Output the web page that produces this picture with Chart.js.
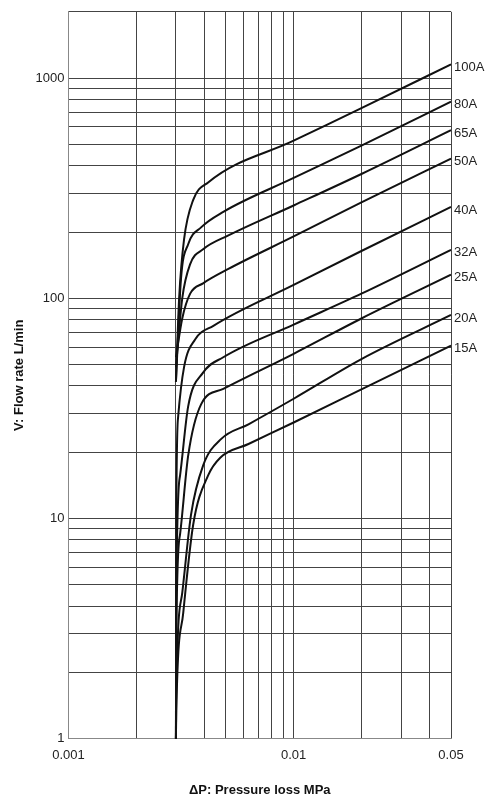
<!DOCTYPE html>
<html>
<head>
<meta charset="utf-8">
<script src="https://cdn.jsdelivr.net/npm/chart.js@4"></script>
<style>
  body { margin: 0; background: #fff; }
  #wrap { width: 488px; height: 800px; }
</style>
</head>
<body>
<div id="wrap"><canvas id="chart" width="488" height="800"></canvas></div>
<script>
// sizes (pipe bore) and curve points: [pressure loss MPa, flow L/min]
const sizes = ['100A', '80A', '65A', '50A', '40A', '32A', '25A', '20A', '15A'];
const curve100A = [[0.003, 41.8], [0.0031, 100], [0.00326, 185], [0.00358, 280], [0.00417, 336], [0.01, 520], [0.02, 730], [0.05, 1155]];
const curve80A = [[0.003, 41.8], [0.00316, 123], [0.0034, 176], [0.00388, 210], [0.00487, 247], [0.01, 352], [0.02, 494], [0.05, 781]];
const curve65A = [[0.003, 48.7], [0.0032, 100], [0.00347, 143], [0.00396, 167], [0.00513, 193], [0.01, 264], [0.02, 367], [0.05, 580]];
const curve50A = [[0.003, 54], [0.0032, 81], [0.00347, 105], [0.00396, 117], [0.00513, 136], [0.01, 191], [0.02, 273], [0.05, 431]];
const curve40A = [[0.003, 1], [0.00301, 10.4], [0.00307, 29.1], [0.00326, 48.7], [0.00365, 65], [0.0044, 75], [0.01, 115], [0.02, 164], [0.05, 260]];
const curve32A = [[0.003, 1], [0.00301, 4.6], [0.00313, 15.7], [0.0034, 32.3], [0.00396, 46], [0.00487, 54], [0.01, 76], [0.02, 105], [0.05, 166]];
const curve25A = [[0.003, 1], [0.00301, 3.0], [0.00313, 8.5], [0.0034, 19.3], [0.00388, 33], [0.00487, 38.8], [0.01, 56], [0.02, 81], [0.05, 128]];
const curve20A = [[0.003, 1], [0.00301, 1.6], [0.0032, 4.6], [0.0035, 10.4], [0.00396, 17.4], [0.00477, 23], [0.0063, 26.8], [0.01, 35], [0.02, 53], [0.05, 84]];
const curve15A = [[0.003, 1], [0.00301, 1.33], [0.00323, 3.7], [0.00358, 9.4], [0.00417, 15.7], [0.00472, 18.9], [0.0063, 21.8], [0.01, 27.3], [0.02, 38.6], [0.05, 61]];
const curves = [curve100A, curve80A, curve65A, curve50A, curve40A, curve32A, curve25A, curve20A, curve15A];

const xGrid = [0.001, 0.002, 0.003, 0.004, 0.005, 0.006, 0.007, 0.008, 0.009, 0.01, 0.02, 0.03, 0.04, 0.05];
const xLabels = { 0.001: '0.001', 0.01: '0.01', 0.05: '0.05' };
const yGrid = [];
[1, 10, 100, 1000].forEach(d => { for (let m = 1; m <= 9; m++) if (d * m <= 2000) yGrid.push(d * m); });
yGrid.push(2000);
const yLabels = { 1: '1', 10: '10', 100: '100', 1000: '1000' };

const endLabels = {
  id: 'endLabels',
  afterDatasetsDraw(chart) {
    const ctx = chart.ctx;
    ctx.save();
    ctx.font = '13px "Liberation Sans", Arial, sans-serif';
    ctx.fillStyle = '#222';
    ctx.textBaseline = 'middle';
    chart.data.datasets.forEach(ds => {
      const last = ds.data[ds.data.length - 1];
      const px = chart.scales.x.getPixelForValue(last.x);
      const py = chart.scales.y.getPixelForValue(last.y);
      ctx.fillText(ds.label, px + 3, py + 3);
    });
    ctx.restore();
  }
};

new Chart(document.getElementById('chart'), {
  type: 'scatter',
  data: {
    datasets: sizes.map((s, i) => ({
      label: s,
      data: curves[i].map(p => ({ x: p[0], y: p[1] })),
      showLine: true,
      borderColor: '#111',
      borderWidth: 2,
      pointRadius: 0,
      cubicInterpolationMode: 'monotone'
    }))
  },
  options: {
    responsive: false,
    animation: false,
    layout: { padding: { top: 9, right: 37, left: 8, bottom: 2 } },
    plugins: { legend: { display: false }, tooltip: { enabled: false } },
    scales: {
      x: {
        type: 'logarithmic',
        min: 0.001, max: 0.05,
        afterBuildTicks: ax => { ax.ticks = xGrid.map(v => ({ value: v })); },
        ticks: {
          autoSkip: false, maxRotation: 0, color: '#222', padding: 9,
          font: { family: '"Liberation Sans", Arial, sans-serif', size: 13 },
          callback: v => xLabels[v] || ''
        },
        grid: { color: '#444', lineWidth: 1, drawTicks: false },
        border: { color: '#888' },
        title: {
          display: true, text: 'ΔP: Pressure loss MPa', color: '#111', padding: { top: 10, bottom: 0 },
          font: { family: '"Liberation Sans", Arial, sans-serif', size: 13, weight: 'bold' }
        }
      },
      y: {
        type: 'logarithmic',
        min: 1, max: 2000,
        afterBuildTicks: ax => { ax.ticks = yGrid.map(v => ({ value: v })); },
        ticks: {
          autoSkip: false, color: '#222', padding: 4,
          font: { family: '"Liberation Sans", Arial, sans-serif', size: 13 },
          callback: v => yLabels[v] || ''
        },
        grid: { color: '#444', lineWidth: 1, drawTicks: false },
        border: { color: '#888' },
        title: {
          display: true, text: 'V: Flow rate L/min', color: '#111',
          font: { family: '"Liberation Sans", Arial, sans-serif', size: 13, weight: 'bold' }
        }
      }
    }
  },
  plugins: [endLabels]
});
</script>
</body>
</html>
